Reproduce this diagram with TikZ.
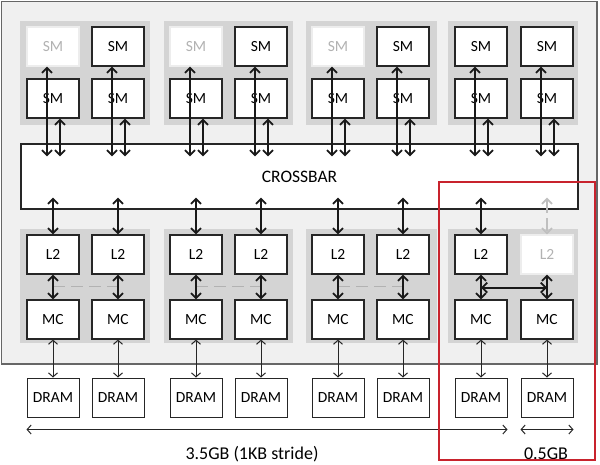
\documentclass[tikz,border=0pt]{standalone}
\usepackage{fontspec}
\setmainfont{Carlito}
\usetikzlibrary{arrows.meta,calc}
\definecolor{redbox}{RGB}{200,35,45}
\begin{document}
\begin{tikzpicture}[x=1pt,y=-1pt,
  box/.style={draw=black!85,line width=1.2pt,fill=white,minimum width=52pt,minimum height=39pt,inner sep=0pt,text=black,font=\fontsize{15.5}{15.5}\selectfont},
  faded/.style={draw=black!7,text=black!30},
  nf/.style={},
  bi/.style={{Straight Barb[length=5pt,width=10pt,line width=1.8pt]}-{Straight Barb[length=5pt,width=10pt,line width=1.8pt]},line width=2pt,black!90},
  thinbi/.style={{Straight Barb[length=4pt,width=9pt]}-{Straight Barb[length=4pt,width=9pt]},line width=1pt,black!85},
  bigtext/.style={font=\fontsize{18}{18}\selectfont,text=black,inner sep=0pt},
]
\useasboundingbox (0,0) rectangle (600,464);
\fill[white] (0,0) rectangle (600,464);
% chip
\path[fill=black!6,draw=black!60,line width=1.2pt] (1.5,1.5) rectangle (597,364);
% group backgrounds
\foreach \a/\b in {20/150,164/293,306/437,448/578} {
  \fill[black!17] (\a,21) rectangle (\b,125);
  \fill[black!17] (\a,229) rectangle (\b,343);
}
% crossbar
\node[draw=black!85,line width=1.2pt,fill=white,minimum width=557pt,minimum height=65pt,inner sep=0pt,font=\fontsize{17.5}{17.5}\selectfont,text=black] (xbar) at (299.5,176.5) {CROSSBAR};
% boxes
\foreach \k/\x/\smst/\ltst in {1/53/faded/nf,2/118/nf/nf,3/196/faded/nf,4/261/nf/nf,5/338/faded/nf,6/403/nf/nf,7/481/nf/nf,8/547/nf/faded} {
  \node[box,\smst] (st\k) at (\x,46.5) {SM};
  \node[box] (sb\k) at (\x,98.5) {SM};
  \node[box,\ltst] (l\k) at (\x,254.5) {L2};
  \node[box] (m\k) at (\x,319.5) {MC};
  \node[box,line width=1pt] (d\k) at (\x,397.5) {DRAM};
}
% SM arrows
\foreach \k in {1,...,8} {
  \draw[bi] ($(st\k.south)+(-6,0)$) -- ($(st\k.south |- xbar.north)+(-6,13)$);
  \draw[bi] ($(sb\k.south)+(7,0)$) -- ($(sb\k.south |- xbar.north)+(7,13)$);
  \draw[thinbi] (m\k) -- (d\k);
}
% crossbar to L2
\foreach \k in {1,...,7} {
  \draw[bi] ($(l\k.north |- xbar.south)+(0,-12)$) -- (l\k.north);
}
\draw[bi,black!25,dash pattern=on 13pt off 5pt] ($(l8.north |- xbar.south)+(0,-12)$) -- (l8.north);
% dashed links
\foreach \a/\b in {1/2,3/4,5/6} {
  \draw[black!30,line width=1pt,dash pattern=on 12pt off 6pt] ($(l\a.south)+(0,12)$) -- ($(l\b.south)+(0,12)$);
}
% L2 to MC
\foreach \k in {1,...,8} {
  \draw[bi] (l\k.south) -- (m\k.north);
}
\draw[bi] ($(l7.south)+(0,13)$) -- ($(l8.south)+(0,13)$);
% bottom ranges
\coordinate (ra) at ($(d1.south west)+(0,12)$);
\coordinate (rb) at ($(d7.south east)+(0,12)$);
\coordinate (rc) at ($(d8.south west)+(0,12)$);
\coordinate (rd) at ($(d8.south east)+(0,12)$);
\draw[thinbi] (ra) -- (rb);
\draw[thinbi] (rc) -- (rd);
\node[bigtext] (t35) at (252,454) {3.5GB (1KB stride)};
\node[bigtext] (t05) at (546,454) {0.5GB};
% red box
\draw[redbox,line width=1.6pt] (439,182) rectangle (595,460);
\end{tikzpicture}
\end{document}
